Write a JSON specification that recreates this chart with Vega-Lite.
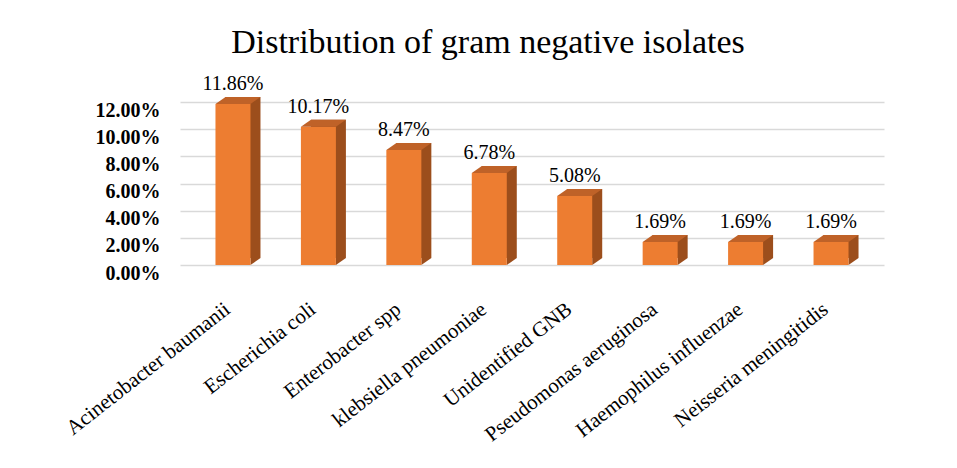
{
  "$schema": "https://vega.github.io/schema/vega-lite/v6.json",
  "width": 704,
  "height": 163,
  "autosize": {"type": "none"},
  "padding": {"left": 180, "top": 102, "right": 73, "bottom": 203},
  "background": "white",
  "config": {"view": {"stroke": null}},
  "title": {
    "text": "Distribution of gram negative isolates",
    "font": "Liberation Serif",
    "fontSize": 34,
    "fontWeight": "normal",
    "color": "#000000",
    "anchor": "middle",
    "dx": -44,
    "offset": 14
  },
  "data": {
    "values": [
      {"organism": "Acinetobacter baumanii", "value": 0.1186},
      {"organism": "Escherichia coli", "value": 0.1017},
      {"organism": "Enterobacter spp", "value": 0.0847},
      {"organism": "klebsiella pneumoniae", "value": 0.0678},
      {"organism": "Unidentified GNB", "value": 0.0508},
      {"organism": "Pseudomonas aeruginosa", "value": 0.0169},
      {"organism": "Haemophilus influenzae", "value": 0.0169},
      {"organism": "Neisseria meningitidis", "value": 0.0169}
    ]
  },
  "encoding": {
    "x": {
      "field": "organism",
      "type": "nominal",
      "sort": null,
      "scale": {"paddingInner": 0, "paddingOuter": 0.12},
      "axis": {
        "title": null,
        "labelAngle": -38,
        "labelFont": "Liberation Serif",
        "labelFontSize": 21,
        "labelColor": "#000000",
        "labelPadding": 33,
        "labelOffset": -12,
        "labelLimit": 400,
        "ticks": false,
        "domain": false,
        "grid": false
      }
    },
    "y": {
      "field": "value",
      "type": "quantitative",
      "scale": {"domain": [0, 0.12], "nice": false},
      "axis": {
        "title": null,
        "values": [0, 0.02, 0.04, 0.06, 0.08, 0.1, 0.12],
        "format": ".2%",
        "labelFont": "Liberation Serif",
        "labelFontSize": 20,
        "labelFontWeight": "bold",
        "labelColor": "#000000",
        "labelPadding": 20,
        "labelOffset": 8,
        "ticks": false,
        "domain": false,
        "grid": true,
        "gridColor": "#D9D9D9",
        "gridWidth": 1.5
      }
    }
  },
  "layer": [
    {
      "mark": {"type": "bar", "color": "#9C4E1C", "size": 35, "xOffset": 10, "x2Offset": 10, "yOffset": -7, "y2Offset": -7}
    },
    {
      "mark": {"type": "point", "shape": "M17.5,0L27.5,-7L17.5,-7Z", "size": 4, "filled": true, "color": "#9C4E1C", "opacity": 1, "strokeWidth": 0},
      "encoding": {"y": {"datum": 0, "type": "quantitative"}}
    },
    {
      "mark": {"type": "bar", "color": "#ED7D31", "size": 35}
    },
    {
      "mark": {"type": "point", "shape": "M-17.5,0L17.5,0L27.5,-7L-7.5,-7Z", "size": 4, "filled": true, "color": "#BF6228", "opacity": 1, "strokeWidth": 0}
    },
    {
      "mark": {"type": "text", "font": "Liberation Serif", "fontSize": 20, "color": "#000000", "baseline": "middle", "dy": -20},
      "encoding": {"text": {"field": "value", "type": "quantitative", "format": ".2%"}}
    }
  ]
}
